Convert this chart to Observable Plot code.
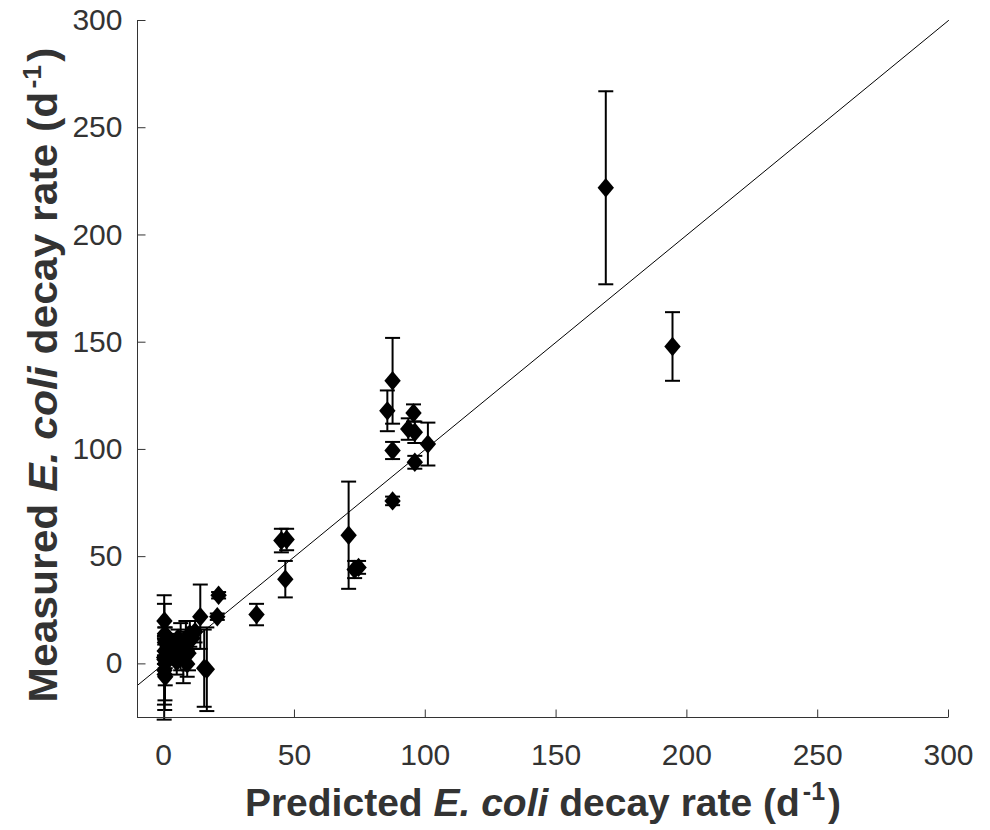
<!DOCTYPE html>
<html><head><meta charset="utf-8">
<script src="https://cdn.jsdelivr.net/npm/d3@7"></script>
<script src="https://cdn.jsdelivr.net/npm/@observablehq/plot@0.6"></script>
<style>body{margin:0;background:#fff}</style>
</head><body><div id="chart"></div>
<script>
// Predicted decay rate (d^-1)
const predicted = [169, 194.5, 87.5, 85.5, 87.5, 87.5, 95.5, 93.5, 96, 101, 96,
  70.7, 73, 74.5, 45, 47, 46.5, 35.5, 21, 20.5, 15.5, 16.5, 14,
  0.2, 0.3, 0.5, 0.3, 0.4, 0.5, 0.4, 0.6, 0.5, 0.3,
  1.5, 2.5, 3, 4, 5, 5.5, 6.5, 7.5, 8.5, 9, 10, 11, 12, 9.5];
// Measured decay rate (d^-1)
const measured = [222, 148, 132, 118, 99.5, 76, 117, 109.5, 108, 102.5, 94,
  60, 44, 45, 57.5, 58, 39.5, 23, 32, 22, -2, -2.5, 22,
  3, 20, 0, -3, -5, 10, 6, -6, 14, 2,
  8, 4, 10, 6, 1, 12, 8, 3, 10, 0, 14, 12, 15, 5];
// Error (half-length of error bar)
const errors = [45, 16, 20, 9.5, 4, 2, 4, 5, 5, 10, 3,
  25, 4, 3, 5.5, 5, 8.5, 5, 1.5, 1.5, 18, 19.5, 15,
  29, 8, 17, 16, 16.5, 4, 3, 4, 3, 2,
  3, 3, 4, 5, 6, 4, 11, 12, 10, 6, 6, 5, 5, 8];

const xTicks = [0, 50, 100, 150, 200, 250, 300];
const yTicks = [0, 50, 100, 150, 200, 250, 300];
const xDomain = [-10, 300];
const yDomain = [-25, 300];
const identityLine = [-10, 300];

const data = predicted.map((x, i) => ({x, y: measured[i], lo: measured[i] - errors[i], hi: measured[i] + errors[i]}));
const oneToOne = identityLine.map(v => ({x: v, y: v}));

const diamond = {draw(ctx, size) { const r = Math.sqrt(size / Math.PI); ctx.moveTo(0, -r * 1.18); ctx.lineTo(r, 0); ctx.lineTo(0, r * 1.18); ctx.lineTo(-r, 0); ctx.closePath(); }};
const cap = {draw(ctx, size) { const r = Math.sqrt(size / Math.PI); ctx.moveTo(-r, 0); ctx.lineTo(r, 0); }};
const tickUp = {draw(ctx, size) { const r = Math.sqrt(size / Math.PI); ctx.moveTo(0, 0); ctx.lineTo(0, -r); }};
const tickRight = {draw(ctx, size) { const r = Math.sqrt(size / Math.PI); ctx.moveTo(0, 0); ctx.lineTo(r, 0); }};

const axisColor = "#333";
const plot = Plot.plot({
  width: 990, height: 830,
  marginLeft: 137, marginRight: 42, marginTop: 20, marginBottom: 113,
  style: {fontFamily: "'Liberation Sans', Arial, sans-serif", fontSize: "30px", background: "#fff"},
  x: {domain: xDomain, label: null},
  y: {domain: yDomain, label: null},
  marks: [
    Plot.line(oneToOne, {x: "x", y: "y", stroke: "#000", strokeWidth: 1}),
    Plot.ruleX(data, {x: "x", y1: "lo", y2: "hi", stroke: "#000", strokeWidth: 2}),
    Plot.dot(data, {x: "x", y: "lo", symbol: cap, r: 7.5, stroke: "#000", fill: "none", strokeWidth: 2}),
    Plot.dot(data, {x: "x", y: "hi", symbol: cap, r: 7.5, stroke: "#000", fill: "none", strokeWidth: 2}),
    Plot.dot(data, {x: "x", y: "y", symbol: diamond, r: 8.2, fill: "#000", stroke: "none"}),
    Plot.ruleY([yDomain[0]], {stroke: axisColor, strokeWidth: 1}),
    Plot.ruleX([xDomain[0]], {stroke: axisColor, strokeWidth: 1}),
    Plot.dot(xTicks, {x: d => d, frameAnchor: "bottom", symbol: tickUp, r: 8, stroke: axisColor, fill: "none", strokeWidth: 1}),
    Plot.dot(yTicks, {y: d => d, frameAnchor: "left", symbol: tickRight, r: 8, stroke: axisColor, fill: "none", strokeWidth: 1}),
    Plot.axisX({ticks: xTicks, tickSize: 0, tickPadding: 26, color: axisColor, fontSize: 30}),
    Plot.axisY({ticks: yTicks, tickSize: 0, tickPadding: 15, color: axisColor, fontSize: 30})
  ]
});
document.getElementById("chart").appendChild(plot);

const svg = d3.select(plot);
function addTitle(sel, first, italic, last) {
  sel.append("tspan").text(first);
  sel.append("tspan").attr("font-style", "italic").text(italic);
  sel.append("tspan").text(last);
  sel.append("tspan").attr("font-size", 25).attr("dx", 3).attr("dy", -16).text("-1");
  sel.append("tspan").attr("dx", 3).attr("dy", 16).text(")");
}
const xt = svg.append("text")
  .attr("x", 543).attr("y", 816)
  .attr("text-anchor", "middle")
  .attr("font-size", 39).attr("font-weight", "bold").attr("fill", "#333");
addTitle(xt, "Predicted ", "E. coli", " decay rate (d");
const yt = svg.append("text")
  .attr("transform", "translate(57,375) rotate(-90)")
  .attr("text-anchor", "middle")
  .attr("font-size", 40).attr("font-weight", "bold").attr("fill", "#333")
  .attr("textLength", 655).attr("lengthAdjust", "spacingAndGlyphs");
addTitle(yt, "Measured ", "E. coli", " decay rate (d");
</script>
</body></html>
